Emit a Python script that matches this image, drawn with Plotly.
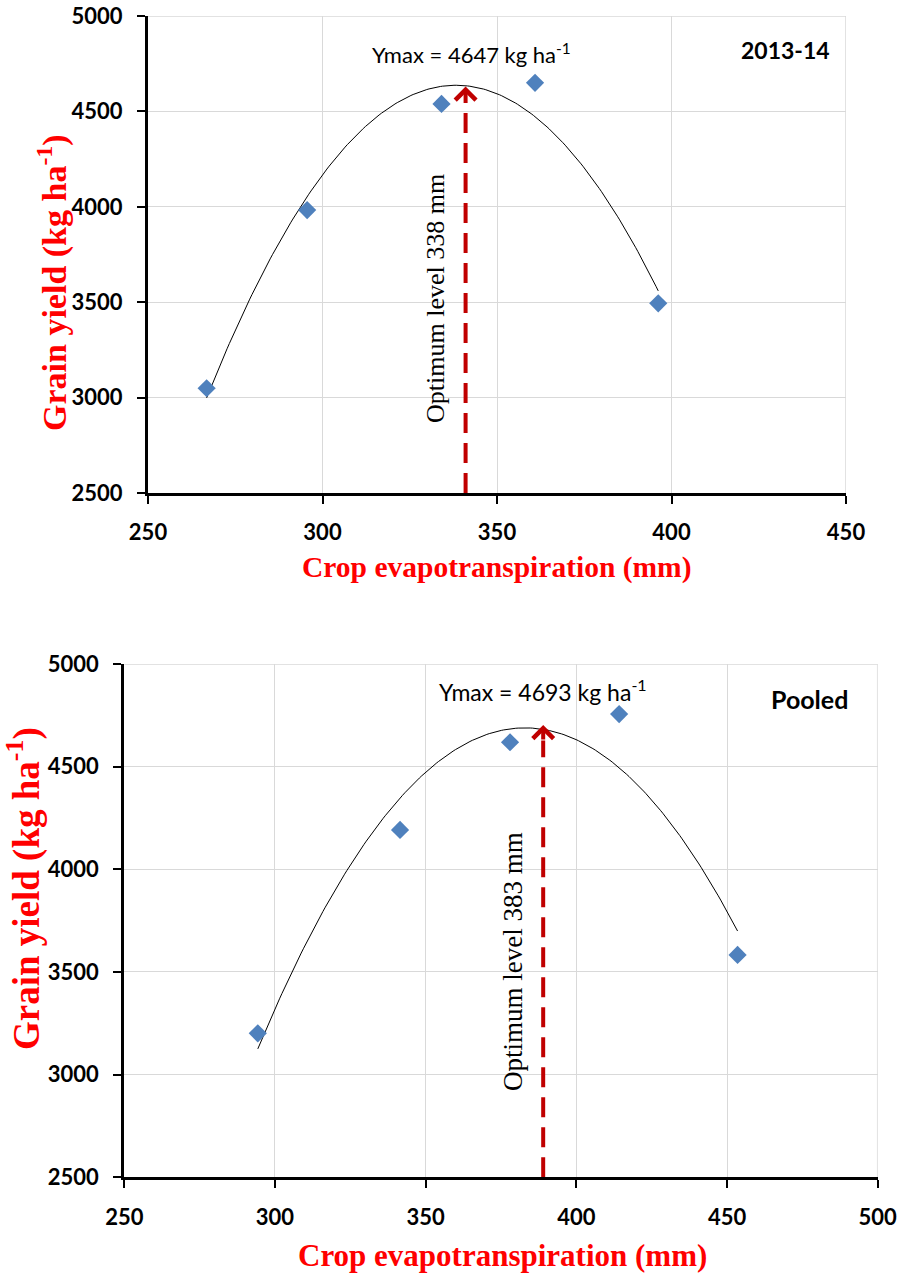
import numpy as np
import plotly.graph_objects as go

# ---- data ----
et_2013 = [266.8, 295.6, 334.1, 360.9, 396.2]
yield_2013 = [3049, 3983, 4539, 4650, 3494]
et_pooled = [294.3, 341.5, 378.0, 414.2, 453.5]
yield_pooled = [3201, 4192, 4619, 4756, 3583]

ymax_labels = ["Ymax = 4647 kg ha<sup>-1</sup>", "Ymax = 4693 kg ha<sup>-1</sup>"]
opt_labels = ["Optimum level 338 mm", "Optimum level 383 mm"]
panel_labels = ["2013-14", "Pooled"]
opt_arrow_x = [341, 389]
opt_arrow_tip = [4630, 4703]

x_ranges = [[250, 450], [250, 500]]
y_range = [2500, 5000]

FW, FH = 901, 1274


def px(x):
    return x / FW


def py(y):
    return 1 - y / FH


MARKER_COLOR = "#4F81BD"
ARROW_COLOR = "#C00000"
TITLE_RED = "#FF0000"
GRID = "#D9D9D9"

fig = go.Figure()

panels = [
    dict(et=et_2013, y=yield_2013, xa="x", ya="y",
         xdom=[px(148), px(846)], ydom=[py(493), py(16)]),
    dict(et=et_pooled, y=yield_pooled, xa="x2", ya="y2",
         xdom=[px(124.3), px(877.7)], ydom=[py(1177.3), py(664)]),
]

shapes = []
for i, p in enumerate(panels):
    # quadratic trendline fitted to the observations
    coef = np.polyfit(p["et"], p["y"], 2)
    xs = np.linspace(min(p["et"]), max(p["et"]), 200)
    fig.add_trace(go.Scatter(x=xs, y=np.polyval(coef, xs), mode="lines",
                             line=dict(color="black", width=1),
                             xaxis=p["xa"], yaxis=p["ya"], showlegend=False,
                             hoverinfo="skip"))
    # dashed optimum line
    dash_top = opt_arrow_tip[i] - 0.03 * (y_range[1] - y_range[0])
    fig.add_trace(go.Scatter(x=[opt_arrow_x[i], opt_arrow_x[i]], y=[y_range[0], dash_top],
                             mode="lines",
                             line=dict(color=ARROW_COLOR, width=4, dash="20px,10px"),
                             xaxis=p["xa"], yaxis=p["ya"], showlegend=False,
                             hoverinfo="skip"))
    # observations
    fig.add_trace(go.Scatter(x=p["et"], y=p["y"], mode="markers",
                             marker=dict(symbol="diamond", size=14, color=MARKER_COLOR),
                             xaxis=p["xa"], yaxis=p["ya"], showlegend=False))
    # grid lines at the far edges of the plot area
    xr = x_ranges[i]
    shapes.append(dict(type="line", xref=p["xa"], yref=p["ya"], x0=xr[1], x1=xr[1],
                       y0=y_range[0], y1=y_range[1], line=dict(color=GRID, width=1.5),
                       layer="below"))
    shapes.append(dict(type="line", xref=p["xa"], yref=p["ya"], x0=xr[0], x1=xr[1],
                       y0=y_range[1], y1=y_range[1], line=dict(color=GRID, width=1.5),
                       layer="below"))

axis_common = dict(showline=True, linecolor="black", linewidth=3,
                   ticks="outside", ticklen=8, tickwidth=2, tickcolor="black",
                   showgrid=True, gridcolor=GRID, gridwidth=1, zeroline=False,
                   ticklabeloverflow="allow",
                   tickfont=dict(family="Lato", size=22, color="black", weight="bold"))

fig.update_layout(
    width=FW, height=FH, autosize=False,
    margin=dict(l=0, r=0, t=0, b=0, autoexpand=False),
    paper_bgcolor="white", plot_bgcolor="white",
    shapes=shapes,
    xaxis=dict(domain=panels[0]["xdom"], range=x_ranges[0], dtick=50, anchor="y",
               ticklabelstandoff=10, **axis_common),
    yaxis=dict(domain=panels[0]["ydom"], range=y_range, dtick=500, anchor="x",
               ticklabelstandoff=10, **axis_common),
    xaxis2=dict(domain=panels[1]["xdom"], range=x_ranges[1], dtick=50, anchor="y2",
                ticklabelstandoff=10, **axis_common),
    yaxis2=dict(domain=panels[1]["ydom"], range=y_range, dtick=500, anchor="x2",
                ticklabelstandoff=10, **axis_common),
)

ann = []
# arrow heads
for i, (xa, ya) in enumerate([("x", "y"), ("x2", "y2")]):
    ann.append(dict(x=opt_arrow_x[i], y=opt_arrow_tip[i], xref=xa, yref=ya,
                    ax=0, ay=16, text="", showarrow=True, arrowhead=4,
                    arrowsize=1, arrowwidth=4, arrowcolor=ARROW_COLOR, standoff=0))

C = dict(xanchor="center", yanchor="middle", showarrow=False)
# Ymax labels
ann.append(dict(x=342.7, y=4806, xref="x", yref="y", text=ymax_labels[0],
                font=dict(family="Lato", size=22, color="black"), **C))
ann.append(dict(x=388.8, y=4873, xref="x2", yref="y2", text=ymax_labels[1],
                font=dict(family="Lato", size=23, color="black"), **C))
# panel labels
ann.append(dict(x=432.8, y=4822, xref="x", yref="y", text=panel_labels[0],
                font=dict(family="Lato", size=23, color="black", weight="bold"), **C))
ann.append(dict(x=477.4, y=4830, xref="x2", yref="y2", text=panel_labels[1],
                font=dict(family="Lato", size=25, color="black", weight="bold"), **C))
# optimum level labels
ann.append(dict(x=332.5, y=3522, xref="x", yref="y", text=opt_labels[0], textangle=-90,
                font=dict(family="Liberation Serif", size=26, color="black"), **C))
ann.append(dict(x=379, y=3549, xref="x2", yref="y2", text=opt_labels[1], textangle=-90,
                font=dict(family="Liberation Serif", size=27, color="black"), **C))
# axis titles
ytitle = "Grain yield (kg ha<sup>-1</sup>)"
xtitle = "Crop evapotranspiration (mm)"
ann.append(dict(x=px(52), y=py(283), xref="paper", yref="paper", text=ytitle,
                textangle=-90,
                font=dict(family="Liberation Serif", size=34, color=TITLE_RED, weight="bold"), **C))
ann.append(dict(x=px(24), y=py(889), xref="paper", yref="paper", text=ytitle,
                textangle=-90,
                font=dict(family="Liberation Serif", size=37, color=TITLE_RED, weight="bold"), **C))
ann.append(dict(x=px(497), y=py(567), xref="paper", yref="paper", text=xtitle,
                font=dict(family="Liberation Serif", size=29.5, color=TITLE_RED, weight="bold"), **C))
ann.append(dict(x=px(502), y=py(1255), xref="paper", yref="paper", text=xtitle,
                font=dict(family="Liberation Serif", size=31, color=TITLE_RED, weight="bold"), **C))

fig.update_layout(annotations=ann)
# remove the browser's default page margin so the figure fills the window
fig.write_html("out.html", config={"displayModeBar": False},
               post_script="document.body.style.margin='0';document.body.style.overflow='hidden';")
